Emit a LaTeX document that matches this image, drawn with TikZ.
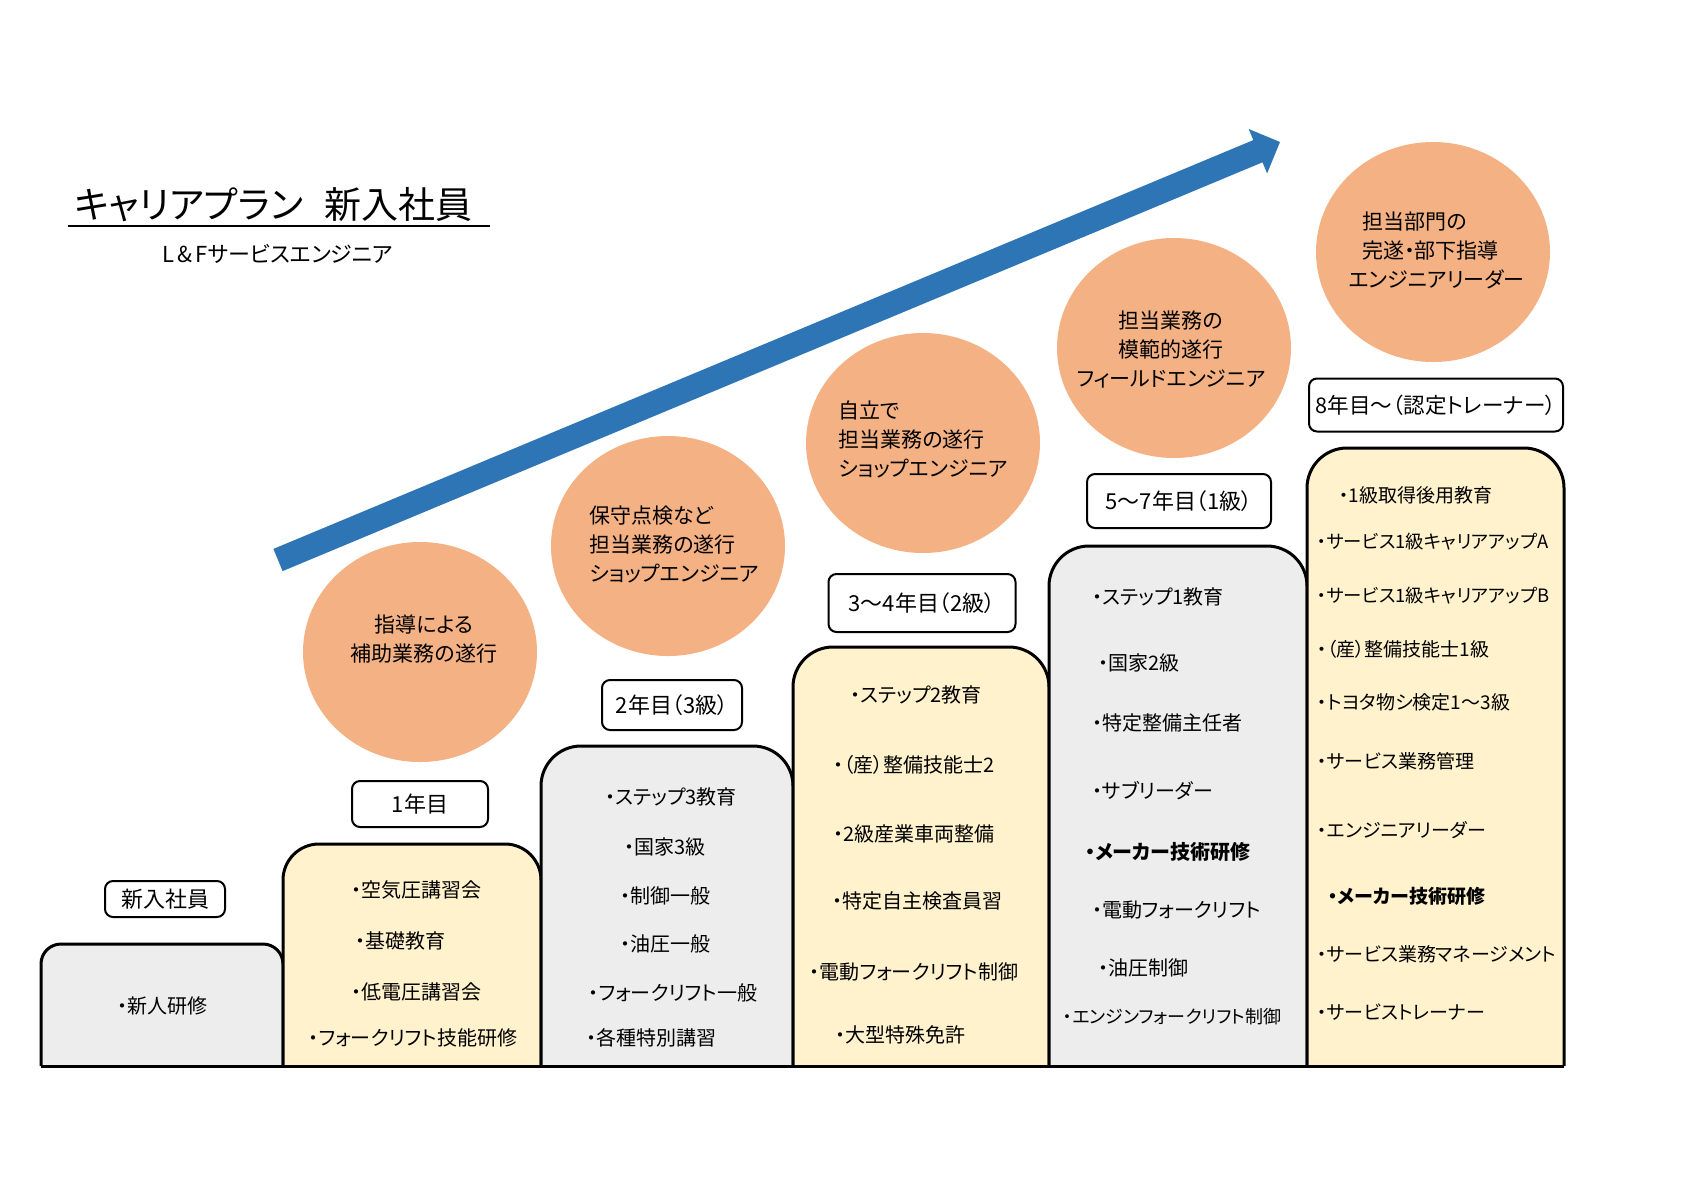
\documentclass[tikz,border=0pt]{standalone}
\usepackage{fontspec}
\setmainfont{Noto Sans CJK JP}[RawFeature=+palt]
\usetikzlibrary{shapes.geometric}
\definecolor{goalorange}{RGB}{244,177,131}
\definecolor{stepyellow}{RGB}{255,242,204}
\definecolor{stepgrey}{RGB}{237,237,237}
\definecolor{arrowblue}{RGB}{46,117,182}

\tikzset{
  goal/.style={ellipse, fill=goalorange, minimum width=117pt, minimum height=110pt, inner sep=0pt},
  goaltext/.style={font=\fontsize{10.5}{14.5}\selectfont, inner sep=0pt, align=#1},
  goaltext/.default=center,
  yearbox/.style={draw, line width=1pt, rounded corners=4pt, fill=white, inner sep=0pt, font=\fontsize{11}{13}\selectfont},
  stepline/.style={line width=1.5pt},
  course/.style={font=\fontsize{10}{12}\selectfont, inner sep=0pt},
  coursesix/.style={font=\fontsize{9.5}{12}\selectfont, inner sep=0pt, anchor=west},
}

\begin{document}
\begin{tikzpicture}[x=0.5pt, y=-0.5pt]
    \useasboundingbox (0,0) rectangle (1696,1200);

    % Title
    \node[anchor=west, inner sep=0pt, font=\fontsize{18.5}{20}\selectfont] (title) at (74,205) {キャリアプラン\hspace{11pt}新入社員};
    \draw[line width=1pt] (68,226) -- (490,226);
    \node[inner sep=0pt, font=\fontsize{11}{13}\selectfont] (subtitle) at (278,254) {L\hspace{1.5pt}\&\hspace{1.5pt}Fサービスエンジニア};

    % Big arrow
    \fill[arrowblue] (273.4,548.9) -- (1253.3,140.1) -- (1248.7,129.0) -- (1280,142)
      -- (1267.1,173.4) -- (1262.5,162.3) -- (282.6,571.1) -- cycle;

    % Steps
    \foreach \xa/\xb/\ya/\r/\col in {41/283/944/10/stepgrey, 283/541/844/18/stepyellow,
        541/793/746/20/stepgrey, 793/1049/647/20/stepyellow,
        1049/1307/546/20/stepgrey, 1307/1564/448/20/stepyellow} {
        \filldraw[stepline, fill=\col, rounded corners=\r pt] (\xa,1066) -- (\xa,\ya) -- (\xb,\ya) -- (\xb,1066);
      }
    \draw[stepline] (41,1066) -- (1564,1066);

    % Goals
    \node[goal] (g1) at (420,652) {};
    \node[goal] (g2) at (668,546) {};
    \node[goal] (g3) at (923,443) {};
    \node[goal] (g4) at (1174,348) {};
    \node[goal] (g5) at (1433,252) {};
    \node[goaltext] (g1t) at (424,639) {指導による\\補助業務の遂行};
    \node[goaltext=left, anchor=west] (g2t) at (589,544) {保守点検など\\担当業務の遂行\\ショップエンジニア};
    \node[goaltext=left, anchor=west] (g3t) at (838,439) {自立で\\担当業務の遂行\\ショップエンジニア};
    \node[goaltext] (g4t) at (1171,349) {担当業務の\\模範的遂行\\フィールドエンジニア};
    \node[goaltext=left, anchor=west] (g5t) at (1348,250) {\hspace*{7pt}担当部門の\\\hspace*{7pt}完遂・部下指導\\エンジニアリーダー};

    % Years
    \node[yearbox, minimum width=60pt, minimum height=18pt] (y0) at (165,899) {新入社員};
    \node[yearbox, minimum width=68pt, minimum height=23pt] (y1) at (420,804) {1年目};
    \node[yearbox, minimum width=70pt, minimum height=25pt] (y2) at (672,705) {2年目（3級）};
    \node[yearbox, minimum width=93.5pt, minimum height=29pt] (y3) at (922,603) {3～4年目（2級）};
    \node[yearbox, minimum width=92pt, minimum height=27pt] (y4) at (1179,501) {5～7年目（1級）};
    \node[yearbox, minimum width=127pt, minimum height=26.5pt, font=\fontsize{10.8}{13}\selectfont] (y5) at (1436,405) {8年目～（認定トレーナー）};

    % Courses
    \node[course] (c0) at (162,1006) {・新人研修};
    \foreach \x/\y/\t [count=\i] in {416/890/・空気圧講習会, 400/941/・基礎教育,
        416/992/・低電圧講習会, 413/1038/・フォークリフト技能研修} {
        \node[course] (ca\i) at (\x,\y) {\t};
      }
    \foreach \x/\y/\t [count=\i] in {671/797/・ステップ3教育, 665/847/・国家3級,
        665/896/・制御一般, 665/944/・油圧一般, 673/993/・フォークリフト一般,
        651/1038/・各種特別講習} {
        \node[course] (cb\i) at (\x,\y) {\t};
      }
    \foreach \x/\y/\t [count=\i] in {916/695/・ステップ2教育, 914/765/・（産）整備技能士2,
        914/834/・2級産業車両整備, 917/901/・特定自主検査員習,
        914/972/・電動フォークリフト制御, 900/1035/・大型特殊免許} {
        \node[course] (cc\i) at (\x,\y) {\t};
      }
    \foreach \x/\y/\t [count=\i] in {1092/597/・ステップ1教育, 1098/663/・国家2級,
        1092/723/・特定整備主任者, 1092/791/・サブリーダー,
        1085/852/{\bfseries ・メーカー技術研修}, 1092/910/・電動フォークリフト,
        1098/968/・油圧制御, 1063/1017/{\fontsize{9}{10}\selectfont ・エンジンフォークリフト制御}} {
        \node[course, anchor=west] (cd\i) at (\x,\y) {\t};
      }
    \foreach \x/\y/\t [count=\i] in {1339/495/・1級取得後用教育,
        1317/542/{\fontsize{9.2}{10}\selectfont ・サービス1級キャリアアップA},
        1317/596/{\fontsize{9.2}{10}\selectfont ・サービス1級キャリアアップB},
        1317/649/・（産）整備技能士1級, 1317/702/・トヨタ物シ検定1～3級,
        1317/761/・サービス業務管理, 1317/830/・エンジニアリーダー,
        1328/896/{\bfseries ・メーカー技術研修}, 1317/954/・サービス業務マネージメント,
        1317/1012/・サービストレーナー} {
        \node[coursesix] (ce\i) at (\x,\y) {\t};
      }
  \end{tikzpicture}
\end{document}
